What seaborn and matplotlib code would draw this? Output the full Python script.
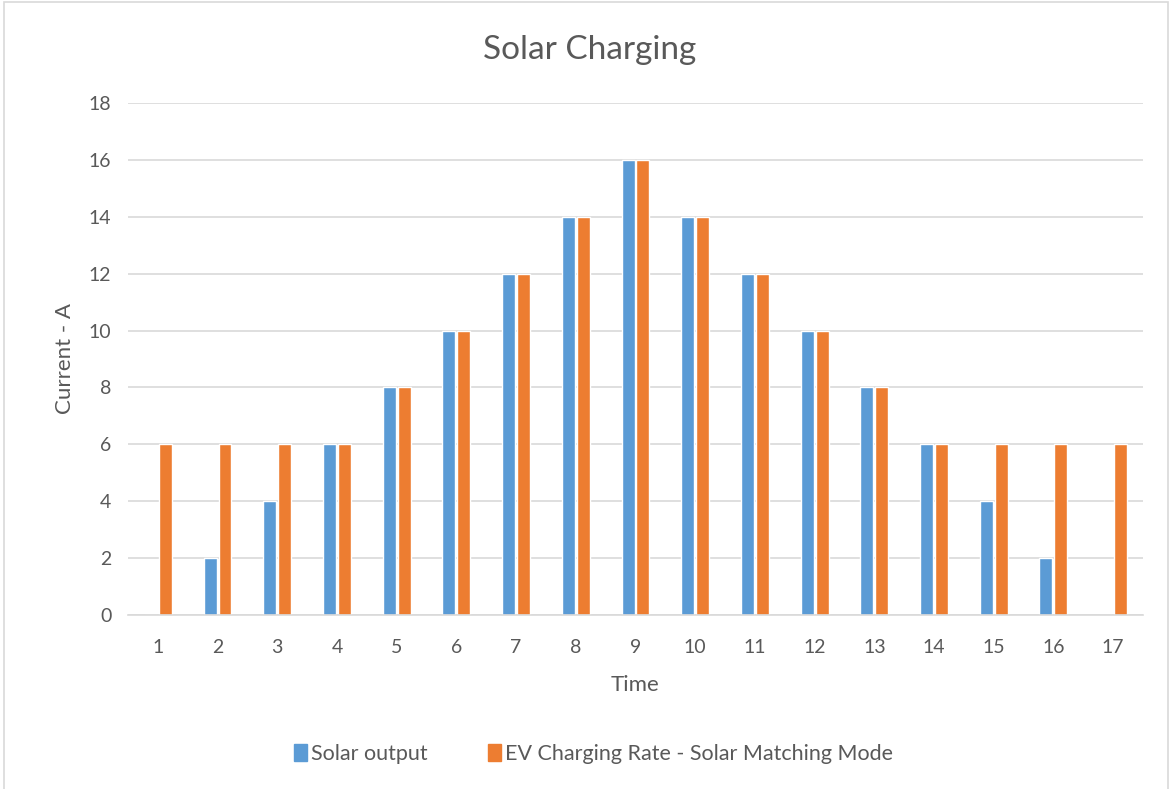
import matplotlib
matplotlib.use("Agg")
import matplotlib.pyplot as plt
import seaborn as sns
import pandas as pd
from matplotlib.patches import Rectangle

times = [str(i) for i in range(1, 18)]
solar_output = [0, 2, 4, 6, 8, 10, 12, 14, 16, 14, 12, 10, 8, 6, 4, 2, 0]
ev_rate = [6, 6, 6, 6, 8, 10, 12, 14, 16, 14, 12, 10, 8, 6, 6, 6, 6]
series_names = ["Solar output", "EV Charging Rate - Solar Matching Mode"]
colors = ["#5B9BD5", "#ED7D31"]

df = pd.DataFrame({
    "Time": times * 2,
    "Current": solar_output + ev_rate,
    "Series": [series_names[0]] * len(times) + [series_names[1]] * len(times),
})

sns.set_theme(style="white")
plt.rcParams["font.family"] = ["Lato", "DejaVu Sans"]

fig = plt.figure(figsize=(11.73, 7.89), dpi=100)
ax = fig.add_axes([0.1091, 0.2205, 0.8653, 0.649])

sns.barplot(data=df, x="Time", y="Current", hue="Series", order=times,
            hue_order=series_names, palette=colors, width=0.5, gap=0.13,
            saturation=1, ax=ax, legend=True)

ax.set_ylim(0, 18)
ax.set_yticks(range(0, 19, 2))
ax.set_xlim(-0.5, len(times) - 0.5)
ax.yaxis.grid(True, color="#D9D9D9", linewidth=1.2)
ax.set_axisbelow(True)
for s in ["top", "right", "left"]:
    ax.spines[s].set_visible(False)
ax.spines["bottom"].set_color("#D9D9D9")
ax.spines["bottom"].set_linewidth(1.2)
ax.tick_params(axis="both", length=0, labelsize=14, colors="#595959")
ax.tick_params(axis="x", pad=17)
ax.tick_params(axis="y", pad=12)

ax.set_xlabel("Time", fontsize=16, color="#595959", labelpad=14)
ax.set_ylabel("Current - A", fontsize=16, color="#595959", labelpad=10)
fig.text(0.503, 0.937, "Solar Charging", ha="center", va="center",
         fontsize=24, color="#595959")

ax.get_legend().remove()
handles = [Rectangle((0, 0), 1, 1, color=c) for c in colors]
fig.legend(handles, series_names, loc="center", bbox_to_anchor=(0.506, 0.044),
           ncol=2, frameon=False, fontsize=15.5, handlelength=0.6, handleheight=0.85,
           handletextpad=0.2, columnspacing=2.8, labelcolor="#595959")

fig.patches.append(Rectangle((4 / 1173, -0.01), (1168 - 4) / 1173, 1.0 - 2 / 789 + 0.01,
                             transform=fig.transFigure, fill=False,
                             edgecolor="#D9D9D9", linewidth=1.2))

fig.savefig("out.png", dpi=100)
